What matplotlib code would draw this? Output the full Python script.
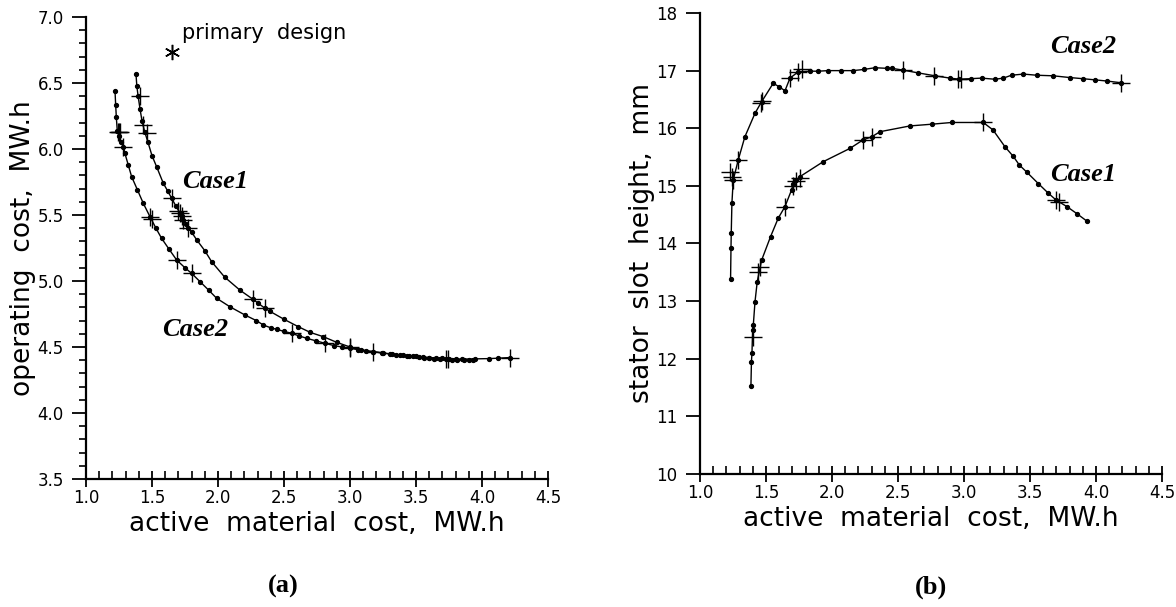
import matplotlib.pyplot as plt
from matplotlib.ticker import MultipleLocator

# --- panel (a): operating cost vs active material cost ---
a_case1_x = [1.379, 1.385, 1.395, 1.41, 1.425, 1.445, 1.47, 1.50, 1.535, 1.586,
             1.62, 1.649, 1.68, 1.712, 1.725, 1.737, 1.76, 1.775, 1.80, 1.84,
             1.90, 1.952, 2.05, 2.167, 2.267, 2.30, 2.356, 2.394, 2.50, 2.608,
             2.70, 2.798, 2.90, 3.0, 3.08, 3.177, 3.25, 3.32, 3.379, 3.43,
             3.48, 3.52, 3.56, 3.60, 3.64, 3.68, 3.73, 3.77, 3.81, 3.86, 3.90, 3.934]
a_case1_y = [6.568, 6.48, 6.40, 6.30, 6.21, 6.13, 6.05, 5.95, 5.866, 5.74,
             5.68, 5.627, 5.57, 5.515, 5.49, 5.462, 5.43, 5.40, 5.37, 5.31,
             5.23, 5.146, 5.03, 4.93, 4.86, 4.835, 4.793, 4.77, 4.71, 4.654,
             4.61, 4.578, 4.535, 4.50, 4.48, 4.464, 4.455, 4.445, 4.44, 4.435,
             4.43, 4.425, 4.42, 4.415, 4.412, 4.41, 4.407, 4.405, 4.403, 4.402, 4.40, 4.40]
a_case1_cross_x = [1.409, 1.434, 1.46, 1.649, 1.70, 1.712, 1.725, 1.737, 1.775,
                   2.267, 2.356, 3.0, 3.73]
a_case1_cross_y = [6.40, 6.18, 6.12, 5.627, 5.53, 5.515, 5.49, 5.462, 5.40,
                   4.86, 4.793, 4.50, 4.407]

a_case2_x = [1.22, 1.225, 1.23, 1.237, 1.25, 1.265, 1.283, 1.295, 1.32, 1.346,
             1.39, 1.434, 1.485, 1.53, 1.573, 1.63, 1.687, 1.75, 1.80, 1.864,
             1.93, 1.99, 2.09, 2.205, 2.29, 2.343, 2.40, 2.444, 2.50, 2.558,
             2.61, 2.672, 2.74, 2.811, 2.88, 2.94, 3.0, 3.06, 3.12, 3.177,
             3.24, 3.30, 3.35, 3.40, 3.45, 3.50, 3.55, 3.60, 3.65, 3.70,
             3.75, 3.80, 3.85, 3.95, 4.05, 4.12, 4.212]
a_case2_y = [6.44, 6.333, 6.24, 6.14, 6.10, 6.05, 6.017, 5.967, 5.88, 5.79,
             5.69, 5.589, 5.487, 5.40, 5.323, 5.24, 5.159, 5.10, 5.058, 4.995,
             4.93, 4.869, 4.805, 4.742, 4.70, 4.667, 4.645, 4.634, 4.618, 4.604,
             4.585, 4.566, 4.547, 4.528, 4.51, 4.50, 4.49, 4.48, 4.47, 4.464,
             4.455, 4.448, 4.442, 4.437, 4.432, 4.428, 4.424, 4.42, 4.417, 4.414,
             4.412, 4.41, 4.408, 4.41, 4.412, 4.415, 4.42]
a_case2_cross_x = [1.24, 1.25, 1.26, 1.283, 1.485, 1.50, 1.687, 1.80, 2.558,
                   2.811, 3.0, 3.177, 3.74, 4.212]
a_case2_cross_y = [6.13, 6.13, 6.13, 6.017, 5.487, 5.47, 5.159, 5.058, 4.604,
                   4.528, 4.49, 4.464, 4.41, 4.42]

primary_x, primary_y = 1.65, 6.735

# --- panel (b): stator slot height vs active material cost ---
b_case2_x = [1.232, 1.235, 1.237, 1.242, 1.252, 1.29, 1.34, 1.417, 1.467, 1.555,
             1.60, 1.644, 1.682, 1.745, 1.83, 1.896, 1.972, 2.066, 2.16, 2.24,
             2.326, 2.414, 2.452, 2.535, 2.654, 2.78, 2.894, 2.965, 3.05, 3.134,
             3.235, 3.298, 3.36, 3.45, 3.55, 3.676, 3.80, 3.90, 3.99, 4.08, 4.187]
b_case2_y = [13.39, 13.915, 14.175, 14.696, 15.10, 15.45, 15.85, 16.26, 16.46, 16.78,
             16.72, 16.65, 16.87, 16.98, 16.99, 16.99, 17.0, 17.0, 17.0, 17.02,
             17.05, 17.04, 17.04, 17.01, 16.96, 16.91, 16.87, 16.85, 16.86, 16.87,
             16.85, 16.87, 16.92, 16.94, 16.92, 16.91, 16.88, 16.86, 16.84, 16.82, 16.79]
b_case2_cross_x = [1.23, 1.24, 1.25, 1.29, 1.46, 1.47, 1.682, 1.745, 1.77,
                   2.54, 2.77, 2.955, 2.975, 4.187]
b_case2_cross_y = [15.24, 15.16, 15.10, 15.45, 16.44, 16.48, 16.87, 16.98, 17.02,
                   17.01, 16.91, 16.85, 16.85, 16.79]

b_case1_x = [1.386, 1.39, 1.394, 1.399, 1.404, 1.417, 1.434, 1.467, 1.535, 1.593,
             1.644, 1.694, 1.707, 1.73, 1.757, 1.934, 2.136, 2.237, 2.30, 2.364,
             2.59, 2.755, 2.907, 3.146, 3.22, 3.31, 3.374, 3.42, 3.475, 3.563,
             3.64, 3.70, 3.78, 3.854, 3.93]
b_case1_y = [11.52, 11.95, 12.10, 12.50, 12.58, 12.99, 13.34, 13.71, 14.12, 14.44,
             14.64, 14.93, 15.04, 15.10, 15.16, 15.42, 15.65, 15.80, 15.85, 15.94,
             16.04, 16.07, 16.10, 16.10, 15.97, 15.68, 15.51, 15.36, 15.24, 15.04,
             14.87, 14.75, 14.64, 14.52, 14.39]
b_case1_cross_x = [1.40, 1.442, 1.455, 1.644, 1.707, 1.73, 1.757, 2.237, 2.30,
                   3.146, 3.70, 3.72]
b_case1_cross_y = [12.37, 13.50, 13.59, 14.64, 15.0, 15.08, 15.14, 15.80, 15.85,
                   16.10, 14.75, 14.72]

plt.rcParams["font.family"] = "DejaVu Sans"
fig = plt.figure(figsize=(11.76, 6.07), dpi=100)
ax_a = fig.add_axes([0.0731, 0.2109, 0.3929, 0.7611])
ax_b = fig.add_axes([0.5952, 0.2191, 0.3929, 0.7595])

case_font = dict(family="Liberation Serif", weight="bold", style="italic", fontsize=19)


def draw_curve(ax, xs, ys, cx, cy):
    ax.plot(xs, ys, color="black", lw=1.0, marker="o", ms=2.8, zorder=3)
    ax.plot(cx, cy, ls="none", color="black", marker="+", ms=13, mew=1.0, zorder=4)


def style_axes(ax, ymin, ymax, ymajor, yminor, ylabel):
    ax.set_xlim(1.0, 4.5)
    ax.set_ylim(ymin, ymax)
    for side in ("top", "right"):
        ax.spines[side].set_visible(False)
    for side in ("left", "bottom"):
        ax.spines[side].set_linewidth(1.6)
    ax.xaxis.set_major_locator(MultipleLocator(0.5))
    ax.xaxis.set_minor_locator(MultipleLocator(0.1))
    ax.yaxis.set_major_locator(MultipleLocator(ymajor))
    if yminor:
        ax.yaxis.set_minor_locator(MultipleLocator(yminor))
    ax.tick_params(axis="x", which="major", direction="inout", length=12, width=1.3,
                   labelsize=12, pad=1)
    ax.tick_params(axis="x", which="minor", direction="in", length=6, width=1.2)
    ax.tick_params(axis="y", which="major", direction="out", length=10, width=1.3,
                   labelsize=12, pad=6)
    ax.tick_params(axis="y", which="minor", direction="out", length=5, width=1.2)
    ax.xaxis.set_major_formatter(lambda v, p: f"{v:.1f}")
    ax.set_xlabel("active  material  cost,  MW.h", fontsize=19, labelpad=3)
    ax.set_ylabel(ylabel, fontsize=19, labelpad=1)


# panel (a)
draw_curve(ax_a, a_case1_x, a_case1_y, a_case1_cross_x, a_case1_cross_y)
draw_curve(ax_a, a_case2_x, a_case2_y, a_case2_cross_x, a_case2_cross_y)
ax_a.plot([primary_x], [primary_y], ls="none", color="black", marker=(6, 2, 0), ms=11, mew=1.1)
ax_a.text(1.727, 6.88, "primary  design", fontsize=15, va="center", ha="left")
ax_a.text(1.727, 5.75, "Case1", va="center", ha="left", **case_font)
ax_a.text(1.58, 4.63, "Case2", va="center", ha="left", **case_font)
style_axes(ax_a, 3.5, 7.0, 0.5, 0.1, "operating  cost,  MW.h")
ax_a.yaxis.set_major_formatter(lambda v, p: f"{v:.1f}")

# panel (b)
draw_curve(ax_b, b_case1_x, b_case1_y, b_case1_cross_x, b_case1_cross_y)
draw_curve(ax_b, b_case2_x, b_case2_y, b_case2_cross_x, b_case2_cross_y)
ax_b.text(3.65, 17.41, "Case2", va="center", ha="left", **case_font)
ax_b.text(3.65, 15.19, "Case1", va="center", ha="left", **case_font)
style_axes(ax_b, 10, 18, 1, None, "stator  slot  height,  mm")

fig.text(283 / 1176, 1 - 586 / 607, "(a)", family="Liberation Serif", weight="bold",
         fontsize=19, ha="center", va="center")
fig.text(931 / 1176, 1 - 587 / 607, "(b)", family="Liberation Serif", weight="bold",
         fontsize=19, ha="center", va="center")

fig.savefig("out.png", dpi=100)
